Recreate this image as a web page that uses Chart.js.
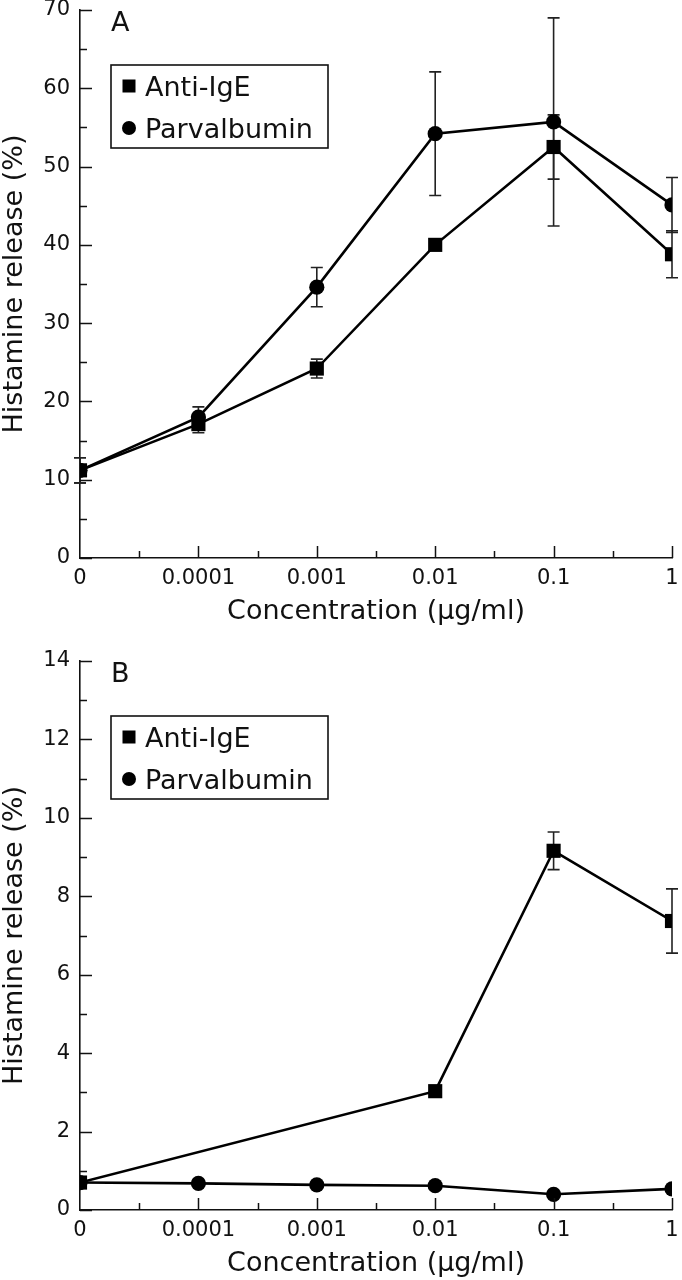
<!DOCTYPE html>
<html>
<head>
<meta charset="utf-8">
<script src="https://cdn.jsdelivr.net/npm/chart.js@4.4.0/dist/chart.umd.min.js"></script>
<style>
  body { margin: 0; background: #fff; }
  .panel { width: 682px; height: 640px; }
</style>
</head>
<body>
<div class="panel"><canvas id="chartA" width="682" height="640"></canvas></div>
<div class="panel"><canvas id="chartB" width="682" height="640"></canvas></div>
<script>
// Concentrations are plotted at evenly spaced positions
const concLabels = ['0', '0.0001', '0.001', '0.01', '0.1', '1'];
const concPos = [0, 1, 2, 3, 4, 5];

// Panel A values (% histamine release) and error bars
const antiIgeA = [11.2, 17.1, 24.2, 40.0, 52.5, 38.8];
const antiIgeAErr = [1.6, 1.1, 1.2, 0, 4.1, 3.0];
const parvA = [11.2, 18.0, 34.6, 54.2, 55.7, 45.1];
const parvAErr = [1.6, 1.3, 2.5, 7.9, 13.3, 3.5];

// Panel B values (null = not measured)
const antiIgeB = [0.70, null, null, 3.03, 9.16, 7.37];
const antiIgeBErr = [0, null, null, 0, 0.48, 0.82];
const parvB = [0.70, 0.68, 0.64, 0.62, 0.40, 0.54];
const parvBErr = [0, 0, 0, 0, 0, 0];

const yTicksA = { max: 70, major: 10, minor: 5 };
const yTicksB = { max: 14, major: 2, minor: 1 };

Chart.defaults.font.family = '"DejaVu Sans", sans-serif';
Chart.defaults.color = '#111';

function toPoints(vals) {
    return concPos.map((x, i) => ({ x: x, y: vals[i] }));
}

// inward tick marks on both axes, major + minor
const axisTicks = {
    id: 'axisTicks',
    afterDraw(chart, args, opts) {
        const { ctx, chartArea, scales: { x, y } } = chart;
        ctx.save();
        ctx.strokeStyle = '#111';
        ctx.lineWidth = 1.5;
        ctx.beginPath();
        for (let v = 0; v <= opts.max + 1e-9; v += opts.minor) {
            const py = Math.round(y.getPixelForValue(v)) + 0.5;
            const major = Math.abs(v / opts.major - Math.round(v / opts.major)) < 1e-6;
            ctx.moveTo(chartArea.left, py);
            ctx.lineTo(chartArea.left + (major ? 12 : 7), py);
        }
        for (let v = 0; v <= 5; v += 0.5) {
            if (v === 0) continue;
            const px = Math.round(x.getPixelForValue(v)) + 0.5;
            const major = v % 1 === 0;
            ctx.moveTo(px, chartArea.bottom);
            ctx.lineTo(px, chartArea.bottom - (major ? 12 : 7));
        }
        ctx.stroke();
        ctx.restore();
    }
};

const errorBars = {
    id: 'errorBars',
    beforeDatasetsDraw(chart) {
        const { ctx, scales: { x, y } } = chart;
        ctx.save();
        ctx.strokeStyle = '#222';
        ctx.lineWidth = 1.6;
        chart.data.datasets.forEach(ds => {
            ds.data.forEach((p, i) => {
                const e = ds.errors[i];
                if (p.y === null || !e) return;
                const px = x.getPixelForValue(p.x);
                const top = y.getPixelForValue(p.y + e);
                const bot = y.getPixelForValue(p.y - e);
                ctx.beginPath();
                ctx.moveTo(px, top); ctx.lineTo(px, bot);
                ctx.moveTo(px - 6, top); ctx.lineTo(px + 6, top);
                ctx.moveTo(px - 6, bot); ctx.lineTo(px + 6, bot);
                ctx.stroke();
            });
        });
        ctx.restore();
    }
};

// boxed legend and panel letter inside the plot area
const boxLegend = {
    id: 'boxLegend',
    afterDraw(chart, args, opts) {
        const { ctx, chartArea } = chart;
        const left = chartArea.left + 31;
        const top = chartArea.top + 55;
        ctx.save();
        ctx.fillStyle = '#111';
        ctx.font = '27px "DejaVu Sans"';
        ctx.textBaseline = 'alphabetic';
        ctx.fillText(opts.letter, left, chartArea.top + 21);

        ctx.lineWidth = 1.6;
        ctx.strokeStyle = '#111';
        ctx.strokeRect(left, top, 217, 83);
        ctx.font = '27px "DejaVu Sans"';
        chart.data.datasets.forEach((ds, i) => {
            const cy = top + 21 + i * 42;
            const cx = left + 18;
            ctx.fillStyle = '#000';
            if (ds.pointStyle === 'rect') {
                ctx.fillRect(cx - 6.5, cy - 6.5, 13, 13);
            } else {
                ctx.beginPath();
                ctx.arc(cx, cy, 7, 0, Math.PI * 2);
                ctx.fill();
            }
            ctx.fillStyle = '#111';
            ctx.fillText(ds.label, left + 34, cy + 10);
        });
        ctx.restore();
    }
};

function makeChart(id, anti, antiErr, parv, parvErr, yt, letter, padTop, xHeight, titlePad) {
    const ctx = document.getElementById(id).getContext('2d');
    return new Chart(ctx, {
        type: 'line',
        data: {
            datasets: [
                {
                    label: 'Anti-IgE',
                    data: toPoints(anti),
                    errors: antiErr,
                    pointStyle: 'rect',
                    pointRadius: 10,
                    borderColor: '#000',
                    backgroundColor: '#000',
                    borderWidth: 2.6,
                    pointBorderWidth: 0,
                    spanGaps: true
                },
                {
                    label: 'Parvalbumin',
                    data: toPoints(parv),
                    errors: parvErr,
                    pointStyle: 'circle',
                    pointRadius: 7.6,
                    borderColor: '#000',
                    backgroundColor: '#000',
                    borderWidth: 2.6,
                    pointBorderWidth: 0,
                    spanGaps: true
                }
            ]
        },
        options: {
            responsive: false,
            animation: false,
            layout: { padding: { top: padTop, right: 7, left: 0, bottom: 0 } },
            plugins: {
                legend: { display: false },
                tooltip: { enabled: false },
                axisTicks: yt,
                boxLegend: { letter: letter }
            },
            scales: {
                x: {
                    type: 'linear',
                    min: 0,
                    max: 5,
                    grid: { drawOnChartArea: false, drawTicks: false },
                    border: { color: '#111', width: 1.6 },
                    ticks: {
                        stepSize: 1,
                        padding: 8,
                        font: { size: 21 },
                        maxRotation: 0,
                        callback: v => concLabels[v]
                    },
                    title: {
                        display: true,
                        text: 'Concentration (µg/ml)',
                        font: { size: 27 },
                        padding: { top: 0, bottom: titlePad }
                    },
                    afterFit: s => { s.height = xHeight; s.paddingLeft = 0; s.paddingRight = 0; }
                },
                y: {
                    min: 0,
                    max: yt.max,
                    grid: { drawOnChartArea: false, drawTicks: false },
                    border: { color: '#111', width: 1.6 },
                    ticks: { stepSize: yt.major, padding: 10, font: { size: 21 } },
                    title: {
                        display: true,
                        text: 'Histamine release (%)',
                        font: { size: 27, lineHeight: 1.0 },
                        padding: { top: 1, bottom: 0 }
                    },
                    afterFit: s => { s.width = 80; s.paddingTop = 0; s.paddingBottom = 0; }
                }
            }
        },
        plugins: [errorBars, axisTicks, boxLegend]
    });
}

makeChart('chartA', antiIgeA, antiIgeAErr, parvA, parvAErr, yTicksA, 'A', 9, 82, 12);
makeChart('chartB', antiIgeB, antiIgeBErr, parvB, parvBErr, yTicksB, 'B', 21, 70, 0);
</script>
</body>
</html>
